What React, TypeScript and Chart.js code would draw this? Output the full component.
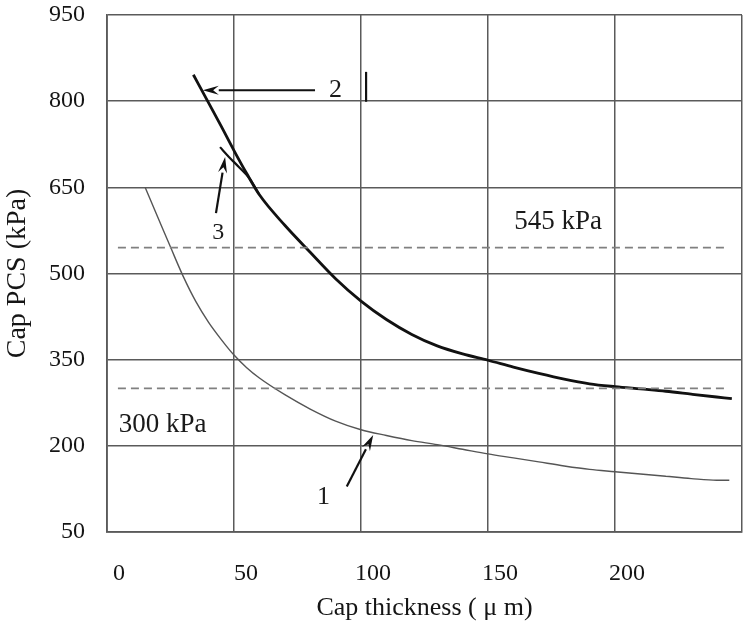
import React, { useEffect, useRef } from "react";
import { Chart, registerables } from "chart.js";

Chart.register(...registerables);

// ---- Data ----
const xTicks = [0, 50, 100, 150, 200, 250];
const yTicks = [50, 200, 350, 500, 650, 800, 950];

// Curve 1 (thin grey)
const curve1X = [15, 20, 25, 30, 35, 40, 45, 50, 55, 60, 70, 80, 90, 100, 110, 120, 130, 140, 150, 160, 170, 180, 190, 200, 210, 220, 230, 240, 245];
const curve1Y = [650, 598, 546, 495, 451, 415, 385, 358, 336, 318, 289, 264, 243, 228, 218, 209, 202, 194, 186, 179, 172, 165, 159, 155, 151, 147, 143, 140, 140];

// Curve 2 (thick black)
const curve2X = [34, 40, 45, 50, 55, 60, 70, 80, 90, 100, 110, 120, 130, 140, 150, 160, 170, 180, 190, 200, 210, 220, 230, 240, 246];
const curve2Y = [846, 797, 756, 714, 674, 637, 584, 537, 491, 452, 420, 394, 374, 360, 349, 337, 326, 316, 308, 303, 299, 295, 290, 285, 282];

// Curve 3 (short black, merging into curve 2)
const curve3X = [44.5, 48, 52, 56, 60];
const curve3Y = [720, 703, 685, 666, 637];

// Reference (dashed) levels
const refLevels = [545, 300];
const refX = [4.3, 244];

// Annotation texts
const noteTexts = ["545 kPa", "300 kPa", "2", "3", "1"];
const noteX = [177.6, 21.9, 90, 43.8, 85.2];
const noteY = [590, 236, 819, 571, 111];
const noteSize = [27, 27, 26, 24, 26];

// Arrows (tail -> head)
const arrowFromX = [81.9, 42.9, 94.4];
const arrowFromY = [819, 605, 129];
const arrowToX = [37.7, 46.5, 104.8];
const arrowToY = [819, 703, 219];

// Small vertical mark next to "2"
const markX = [102, 102];
const markY = [799, 851];

const FONT = '"Liberation Serif", "Times New Roman", serif';

const toPts = (xs: number[], ys: number[]) => xs.map((x, i) => ({ x, y: ys[i] }));

const annotationPlugin = {
  id: "annotations",
  afterDatasetsDraw(chart: any) {
    const { ctx, scales } = chart;
    const sx = scales.x;
    const sy = scales.y;
    ctx.save();
    ctx.fillStyle = "#1a1a1a";
    ctx.textAlign = "center";
    ctx.textBaseline = "middle";
    noteTexts.forEach((t, i) => {
      ctx.font = `${noteSize[i]}px ${FONT}`;
      ctx.fillText(t, sx.getPixelForValue(noteX[i]), sy.getPixelForValue(noteY[i]));
    });
    ctx.strokeStyle = "#111";
    ctx.fillStyle = "#111";
    ctx.lineWidth = 2.2;
    arrowFromX.forEach((_, i) => {
      const x1 = sx.getPixelForValue(arrowFromX[i]);
      const y1 = sy.getPixelForValue(arrowFromY[i]);
      const x2 = sx.getPixelForValue(arrowToX[i]);
      const y2 = sy.getPixelForValue(arrowToY[i]);
      const ang = Math.atan2(y2 - y1, x2 - x1);
      const len = 16;
      const hw = 4.5;
      const bx = x2 - len * Math.cos(ang);
      const by = y2 - len * Math.sin(ang);
      ctx.beginPath();
      ctx.moveTo(x1, y1);
      ctx.lineTo(bx, by);
      ctx.stroke();
      ctx.beginPath();
      ctx.moveTo(x2, y2);
      ctx.lineTo(bx + hw * Math.sin(ang), by - hw * Math.cos(ang));
      ctx.lineTo(bx + 0.35 * len * Math.cos(ang), by + 0.35 * len * Math.sin(ang));
      ctx.lineTo(bx - hw * Math.sin(ang), by + hw * Math.cos(ang));
      ctx.closePath();
      ctx.fill();
    });
    ctx.lineWidth = 2.2;
    ctx.beginPath();
    ctx.moveTo(sx.getPixelForValue(markX[0]), sy.getPixelForValue(markY[0]));
    ctx.lineTo(sx.getPixelForValue(markX[1]), sy.getPixelForValue(markY[1]));
    ctx.stroke();
    ctx.restore();
  },
};

const zeroPad = (s: any) => {
  s.paddingTop = 0;
  s.paddingBottom = 0;
  s.paddingLeft = 0;
  s.paddingRight = 0;
};

export default function App() {
  const canvasRef = useRef<HTMLCanvasElement | null>(null);

  useEffect(() => {
    if (!canvasRef.current) return;
    const line = (data: any[], color: string, width: number, dash: number[] = []) => ({
      data,
      borderColor: color,
      borderWidth: width,
      borderDash: dash,
      pointRadius: 0,
      fill: false,
      tension: 0.35,
      cubicInterpolationMode: "monotone" as const,
    });
    const chart = new Chart(canvasRef.current, {
      type: "line",
      data: {
        datasets: [
          line(toPts(refX, [refLevels[0], refLevels[0]]), "#808080", 1.7, [8, 5]),
          line(toPts(refX, [refLevels[1], refLevels[1]]), "#808080", 1.7, [8, 5]),
          line(toPts(curve1X, curve1Y), "#555", 1.4),
          line(toPts(curve3X, curve3Y), "#111", 2.2),
          line(toPts(curve2X, curve2Y), "#111", 2.8),
        ],
      },
      options: {
        animation: false,
        responsive: false,
        layout: { padding: { top: 15, right: 8, left: 0, bottom: 0 } },
        plugins: { legend: { display: false }, tooltip: { enabled: false } },
        scales: {
          x: {
            type: "linear",
            min: 0,
            max: 250,
            afterBuildTicks: (s: any) => {
              s.ticks = xTicks.map((v) => ({ value: v }));
            },
            afterFit: (s: any) => {
              s.height = 100;
              zeroPad(s);
            },
            grid: { color: "#5a5a5a", lineWidth: 1.5, drawTicks: false },
            border: { color: "#5a5a5a", width: 1.8 },
            ticks: {
              color: "#151515",
              font: { family: FONT, size: 24 },
              padding: 27,
              labelOffset: 12,
              maxRotation: 0,
              autoSkip: false,
              callback: (v: any) => (v === 250 ? "" : String(v)),
            },
            title: {
              display: true,
              text: "Cap thickness ( μ m)",
              color: "#151515",
              font: { family: FONT, size: 26 },
              padding: { top: 0, bottom: 8 },
            },
          },
          y: {
            type: "linear",
            min: 50,
            max: 950,
            afterBuildTicks: (s: any) => {
              s.ticks = yTicks.map((v) => ({ value: v }));
            },
            afterFit: (s: any) => {
              s.width = 107;
              zeroPad(s);
            },
            grid: { color: "#5a5a5a", lineWidth: 1.5, drawTicks: false },
            border: { color: "#5a5a5a", width: 1.8 },
            ticks: {
              color: "#151515",
              font: { family: FONT, size: 24 },
              padding: 22,
              autoSkip: false,
            },
            title: {
              display: true,
              text: "Cap PCS (kPa)",
              color: "#151515",
              font: { family: FONT, size: 28 },
              padding: { top: 1, bottom: 0 },
            },
          },
        },
      },
      plugins: [annotationPlugin],
    });
    return () => chart.destroy();
  }, []);

  return (
    <div style={{ position: "absolute", left: 0, top: 0, width: 750, height: 632, background: "#fff" }}>
      <canvas ref={canvasRef} width={750} height={632} />
    </div>
  );
}
